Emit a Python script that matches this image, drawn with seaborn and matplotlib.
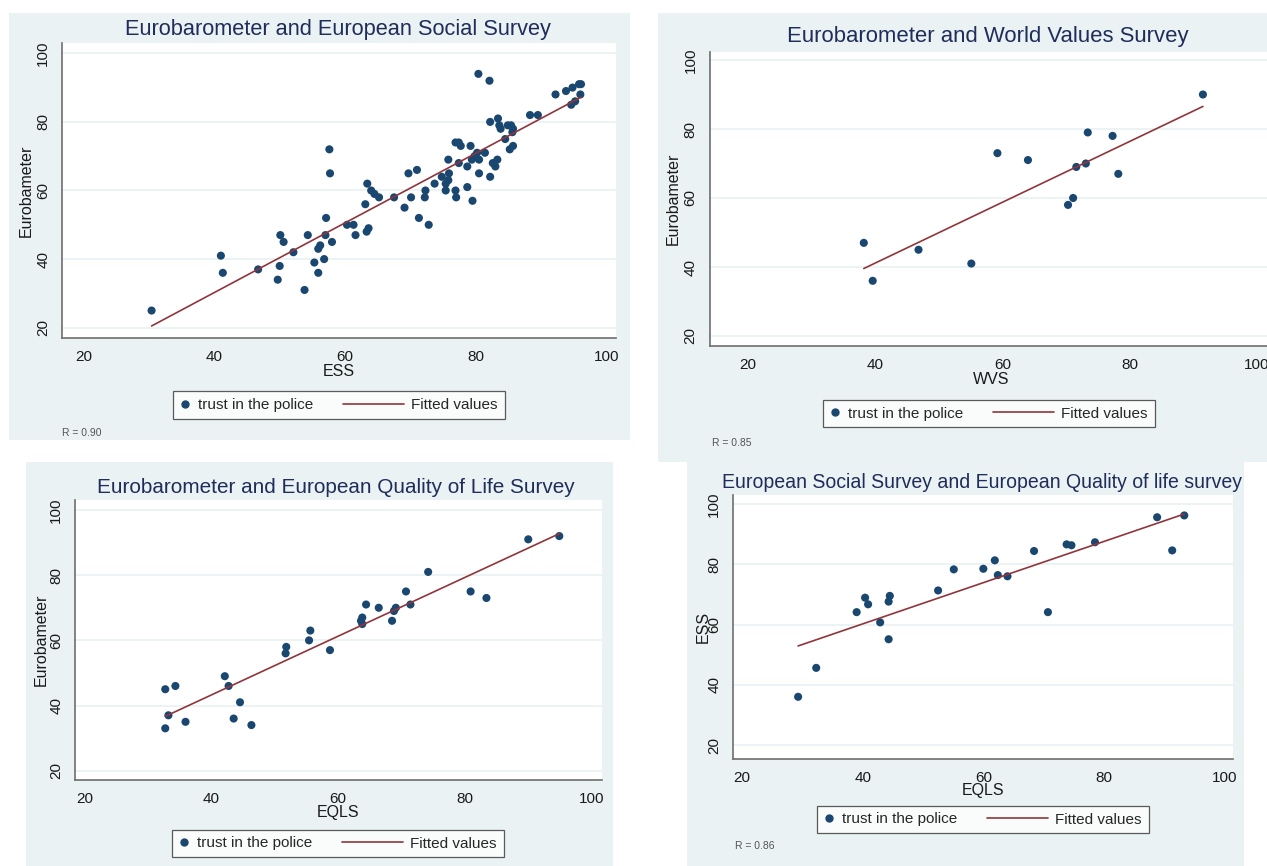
import matplotlib
matplotlib.use("Agg")
import matplotlib.pyplot as plt
from matplotlib.patches import Rectangle
from matplotlib.lines import Line2D
from matplotlib.legend_handler import HandlerLine2D
import seaborn as sns
import pandas as pd

# ---------------- data ----------------
ticks = [20, 40, 60, 80, 100]
tick_labels = ["20", "40", "60", "80", "100"]

titles = ["Eurobarometer and European Social Survey",
          "Eurobarometer and World Values Survey",
          "Eurobarometer and European Quality of Life Survey",
          "European Social Survey and European Quality of life survey"]
xlabels = ["ESS", "WVS", "EQLS", "EQLS"]
ylabels = ["Eurobameter", "Eurobameter", "Eurobameter", "ESS"]
r_texts = ["R = 0.90", "R = 0.85", None, "R = 0.86"]
legend_labels = ["trust in the police", "Fitted values"]

ess_x = [30.4, 41.0, 41.3, 46.7, 49.7, 50.0, 50.1, 50.6, 52.1, 53.8,
         54.3, 55.3, 55.9, 55.9, 56.2, 56.8, 57.0, 57.1, 57.6, 57.7,
         58.0, 60.3, 61.3, 61.6, 63.3, 63.6, 63.1, 63.4, 64.0, 64.5,
         65.2, 67.5, 69.1, 69.7, 70.1, 71.0, 71.3, 72.8, 72.3, 72.2,
         73.7, 74.8, 75.4, 75.4, 75.8, 75.9, 75.8, 76.9, 77.0, 76.9,
         77.4, 77.7, 77.4, 78.7, 78.7, 79.2, 79.5, 79.4, 79.8, 80.2,
         80.5, 80.4, 80.5, 81.4, 82.1, 82.2, 82.2, 82.6, 83.0, 83.3,
         83.4, 83.6, 83.8, 84.5, 84.9, 85.4, 85.7, 85.6, 85.2, 85.7,
         88.3, 89.5, 92.2, 93.8, 94.8, 94.6, 95.2, 95.8, 96.1, 96.0]
eb_vs_ess = [25, 41, 36, 37, 34, 38, 47, 45, 42, 31,
             47, 39, 36, 43, 44, 40, 47, 52, 72, 65,
             45, 50, 50, 47, 48, 49, 56, 62, 60, 59,
             58, 58, 55, 65, 58, 66, 52, 50, 60, 58,
             62, 64, 62, 60, 63, 65, 69, 60, 58, 74,
             74, 73, 68, 67, 61, 73, 57, 69, 70, 71,
             69, 94, 65, 71, 92, 80, 64, 68, 67, 69,
             81, 79, 78, 75, 79, 79, 78, 77, 72, 73,
             82, 82, 88, 89, 90, 85, 86, 91, 91, 88]

wvs_x = [38.2, 39.6, 46.8, 55.1, 59.2, 64.0, 70.3, 71.1, 71.6, 73.1, 73.4, 77.3, 78.2, 91.5]
eb_vs_wvs = [47, 36, 45, 41, 73, 71, 58, 60, 69, 70, 79, 78, 67, 90]

eqls_x = [32.7, 32.7, 33.2, 34.3, 35.9, 42.1, 42.7, 43.5, 44.5, 46.3,
          51.7, 51.8, 55.4, 55.6, 58.7, 63.6, 63.8, 63.8, 64.4, 66.4,
          68.5, 68.8, 69.1, 70.7, 71.4, 74.2, 80.9, 83.4, 90.0, 94.9]
eb_vs_eqls = [45, 33, 37, 46, 35, 49, 46, 36, 41, 34,
              56, 58, 60, 63, 57, 66, 67, 65, 71, 70,
              66, 69, 70, 75, 71, 81, 75, 73, 91, 92]

eqls2_x = [29.3, 32.3, 39.0, 40.4, 40.9, 42.9, 44.3, 44.3, 44.5, 52.5,
           55.1, 60.0, 61.9, 62.4, 64.0, 68.4, 70.7, 73.8, 74.6, 78.5,
           88.8, 91.3, 93.3]
ess_vs_eqls = [36, 45.6, 64.1, 68.9, 66.7, 60.7, 55.1, 67.6, 69.5, 71.3,
               78.3, 78.5, 81.3, 76.4, 76, 84.4, 64.1, 86.6, 86.3, 87.3,
               95.6, 84.6, 96.2]

datasets = [(ess_x, eb_vs_ess), (wvs_x, eb_vs_wvs), (eqls_x, eb_vs_eqls), (eqls2_x, ess_vs_eqls)]

# ---------------- style ----------------
sns.set_style("white")
plt.rcParams["font.family"] = ["Liberation Sans", "DejaVu Sans"]

BG = "#EAF2F3"
NAVY = "#1A476F"
MAROON = "#90353B"
TITLE_C = "#1F2D5A"
AXIS_C = "#6E6E6E"

W, H = 1267, 866
fig = plt.figure(figsize=(W / 100, H / 100), dpi=100)
fig.patch.set_facecolor("white")


class SizedHandler(HandlerLine2D):
    """Legend handler whose key box has its own width (in font-size units)."""

    def __init__(self, width_em, **kw):
        super().__init__(**kw)
        self.width_em = width_em

    def legend_artist(self, legend, orig_handle, fontsize, handlebox):
        handlebox.width = self.width_em * fontsize
        return super().legend_artist(legend, orig_handle, fontsize, handlebox)


# panel layout in pixels
panels = [
    dict(bg=(9, 13, 630, 440), ax=(62, 43, 616, 338),
         xpx=(83.6, 606.5), ypx=(53.3, 327.7),
         title=(338, 29, 429), xl=34, yl=36, leg=(339, 405), rpos=(62, 433)),
    dict(bg=(658, 13, 1267, 462), ax=(709.5, 52, 1272, 346),
         xpx=(748, 1257), ypx=(60, 336),
         title=(988, 36.5, 403), xl=34, yl=36, leg=(989, 413.5), rpos=(712, 443)),
    dict(bg=(26, 462, 613, 866), ax=(75, 500, 601.6, 780),
         xpx=(84.8, 591.6), ypx=(510, 770.7),
         title=(336, 487.5, 479), xl=32, yl=34, leg=(338, 843.5), rpos=None),
    dict(bg=(687, 462, 1244, 866), ax=(733, 495, 1233, 759),
         xpx=(742, 1224.7), ypx=(504, 745),
         title=(982.5, 482.5, 521), xl=32, yl=30, leg=(983, 819.5), rpos=(735, 846)),
]


def fx(px):
    return px / W


def fy(py):
    return 1 - py / H


renderer = fig.canvas.get_renderer()

for i, p in enumerate(panels):
    l, t, r, b = p["bg"]
    fig.patches.append(Rectangle((fx(l), fy(b)), (r - l) / W, (b - t) / H,
                                 transform=fig.transFigure, facecolor=BG,
                                 edgecolor="none", zorder=-5))
    al, at, ar, ab = p["ax"]
    ax = fig.add_axes([fx(al), fy(ab), (ar - al) / W, (ab - at) / H])
    ax.set_facecolor("white")

    # axis limits from pixel positions of ticks 20 and 100
    x20, x100 = p["xpx"]
    sx = (x100 - x20) / 80.0
    ax.set_xlim(20 - (x20 - al) / sx, 100 + (ar - x100) / sx)
    y100, y20 = p["ypx"]
    sy = (y20 - y100) / 80.0
    ax.set_ylim(20 - (ab - y20) / sy, 100 + (y100 - at) / sy)

    xs, ys = datasets[i]
    df = pd.DataFrame({"x": xs, "y": ys})
    ax.yaxis.grid(True, color=BG, linewidth=1.3)
    ax.set_axisbelow(True)
    sns.scatterplot(data=df, x="x", y="y", ax=ax, color=NAVY, s=34,
                    edgecolor="none", linewidth=0, zorder=3)
    sns.regplot(data=df, x="x", y="y", ax=ax, scatter=False, ci=None,
                truncate=True, line_kws=dict(color=MAROON, linewidth=1.2, zorder=4))

    ax.set_xticks(ticks)
    ax.set_xticklabels(tick_labels)
    ax.set_yticks(ticks)
    ax.set_yticklabels(tick_labels)
    for s in ["top", "right"]:
        ax.spines[s].set_visible(False)
    for s in ["left", "bottom"]:
        ax.spines[s].set_color(AXIS_C)
        ax.spines[s].set_linewidth(1.2)
    ax.tick_params(axis="both", direction="out", length=4, width=1,
                   color=AXIS_C, labelsize=11, labelcolor="#1a1a1a", pad=4.5)
    ax.tick_params(axis="y", labelrotation=90)
    for lab in ax.get_yticklabels():
        lab.set_va("center")

    axw = ar - al
    axh = ab - at
    ax.set_xlabel(xlabels[i], fontsize=11.5, color="#1a1a1a")
    ax.xaxis.set_label_coords(0.5, -p["xl"] / axh)
    ax.xaxis.label.set_va("center")
    ax.set_ylabel(ylabels[i], fontsize=11.5, color="#1a1a1a")
    ax.yaxis.set_label_coords(-p["yl"] / axw, 0.5)
    ax.yaxis.label.set_va("center")

    # title
    tx, ty, tw = p["title"]
    tt = fig.text(fx(tx), fy(ty), titles[i], ha="center", va="center",
                  fontsize=15, color=TITLE_C)
    w = tt.get_window_extent(renderer).width
    tt.set_fontsize(15 * tw / w)

    # legend
    dot = Line2D([], [], marker="o", linestyle="none", color=NAVY, markersize=5)
    fit = Line2D([], [], color=MAROON, linewidth=1.2)
    lx, ly = p["leg"]
    leg = fig.legend([dot, fit], legend_labels, loc="center",
                     bbox_to_anchor=(fx(lx), fy(ly)), ncol=2, frameon=True,
                     fancybox=False, fontsize=11, handlelength=4.0,
                     handletextpad=0.5, columnspacing=1.9, borderpad=0.45,
                     borderaxespad=0,
                     handler_map={dot: SizedHandler(0.7, numpoints=1),
                                  fit: SizedHandler(4.0)})
    leg.get_frame().set_edgecolor("#333333")
    leg.get_frame().set_linewidth(0.9)

    if r_texts[i]:
        rx, ry = p["rpos"]
        fig.text(fx(rx), fy(ry), r_texts[i], ha="left", va="center",
                 fontsize=7.5, color="#555555")

fig.savefig("out.png", dpi=100, facecolor="white")
